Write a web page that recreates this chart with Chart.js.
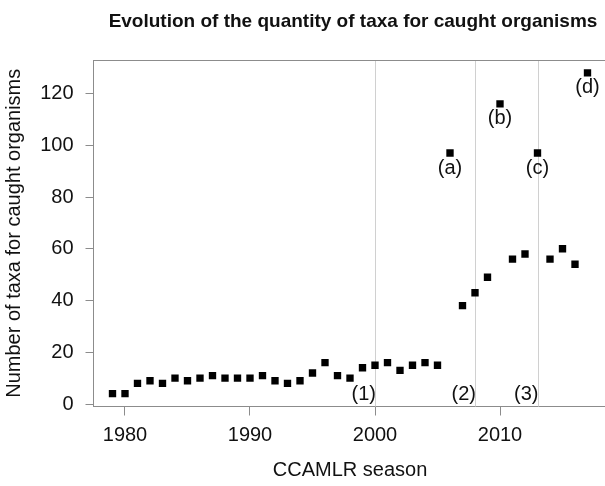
<!DOCTYPE html>
<html>
<head>
<meta charset="utf-8">
<script src="https://cdn.jsdelivr.net/npm/chart.js@4/dist/chart.umd.min.js"></script>
<style>
  html, body { margin: 0; padding: 0; background: #fff; overflow: hidden; }
</style>
</head>
<body>
<canvas id="chart" width="620" height="486"></canvas>
<script>
// CCAMLR seasons and number of taxa recorded for caught organisms
const seasons = [1979, 1980, 1981, 1982, 1983, 1984, 1985, 1986, 1987, 1988,
                 1989, 1990, 1991, 1992, 1993, 1994, 1995, 1996, 1997, 1998,
                 1999, 2000, 2001, 2002, 2003, 2004, 2005, 2006, 2007, 2008,
                 2009, 2010, 2011, 2012, 2013, 2014, 2015, 2016, 2017];
const taxa = [4, 4, 8, 9, 8, 10, 9, 10, 11, 10,
              10, 10, 11, 9, 8, 9, 12, 16, 11, 10,
              14, 15, 16, 13, 15, 16, 15, 97, 38, 43,
              49, 116, 56, 58, 97, 56, 60, 54, 128];

const xTicks = [1980, 1990, 2000, 2010];
const yTicks = [0, 20, 40, 60, 80, 100, 120];

// vertical reference lines (1)-(3) and the labelled outliers (a)-(d)
const refYears = [2000, 2008, 2013];
const refLabels = ['(1)', '(2)', '(3)'];
const peakYears = [2006, 2010, 2013, 2017];
const peakLabels = ['(a)', '(b)', '(c)', '(d)'];

const FONT = '"Liberation Sans", Arial, sans-serif';
const AXIS_COLOR = '#8c8c8c';

const annotations = {
    id: 'annotations',
    beforeDatasetsDraw(chart) {
        const { ctx, chartArea, scales } = chart;
        ctx.save();
        ctx.strokeStyle = '#d0d0d0';
        ctx.lineWidth = 1;
        refYears.forEach(yr => {
            const px = Math.round(scales.x.getPixelForValue(yr)) + 0.5;
            ctx.beginPath();
            ctx.moveTo(px, chartArea.top);
            ctx.lineTo(px, chartArea.bottom);
            ctx.stroke();
        });
        // top of the box
        ctx.strokeStyle = AXIS_COLOR;
        ctx.beginPath();
        ctx.moveTo(chartArea.left, Math.round(chartArea.top) + 0.5);
        ctx.lineTo(chartArea.right, Math.round(chartArea.top) + 0.5);
        ctx.stroke();
        ctx.restore();
    },
    afterDraw(chart) {
        const { ctx, chartArea, scales } = chart;
        ctx.save();
        ctx.fillStyle = '#111';

        // main title
        ctx.font = 'bold 19px ' + FONT;
        ctx.textAlign = 'center';
        ctx.textBaseline = 'alphabetic';
        ctx.fillText('Evolution of the quantity of taxa for caught organisms',
            (chartArea.left + chartArea.right) / 2 + 3, 27);

        // axis titles
        ctx.font = '20px ' + FONT;
        ctx.fillText('CCAMLR season', (chartArea.left + chartArea.right) / 2, 476);
        ctx.save();
        ctx.translate(20, (chartArea.top + chartArea.bottom) / 2);
        ctx.rotate(-Math.PI / 2);
        ctx.fillText('Number of taxa for caught organisms', 0, 0);
        ctx.restore();

        // outlier labels under points
        ctx.textBaseline = 'middle';
        peakYears.forEach((yr, i) => {
            const v = taxa[seasons.indexOf(yr)];
            const px = scales.x.getPixelForValue(yr);
            const py = scales.y.getPixelForValue(v);
            ctx.fillText(peakLabels[i], px, py + 15);
        });

        // reference line labels
        ctx.textAlign = 'right';
        refYears.forEach((yr, i) => {
            const px = scales.x.getPixelForValue(yr);
            ctx.fillText(refLabels[i], px + 1, scales.y.getPixelForValue(3.5));
        });
        ctx.restore();
    }
};

new Chart(document.getElementById('chart'), {
    type: 'scatter',
    data: {
        datasets: [{
            data: seasons.map((s, i) => ({ x: s, y: taxa[i] })),
            pointStyle: 'rect',
            pointRadius: 5.2,
            pointHoverRadius: 5.2,
            backgroundColor: '#000',
            borderWidth: 0
        }]
    },
    options: {
        responsive: false,
        devicePixelRatio: 1,
        animation: false,
        events: [],
        layout: { padding: { top: 60, right: 13.5, left: 0, bottom: 0 } },
        plugins: {
            legend: { display: false },
            tooltip: { enabled: false }
        },
        scales: {
            x: {
                type: 'linear',
                min: 1977.48,
                max: 2018.52,
                afterFit: s => { s.height = 79.5; },
                afterBuildTicks: s => { s.ticks = xTicks.map(v => ({ value: v })); },
                grid: { drawOnChartArea: false, drawTicks: true, tickLength: 9, color: AXIS_COLOR },
                border: { display: true, color: AXIS_COLOR },
                ticks: {
                    padding: 8,
                    maxRotation: 0,
                    color: '#111',
                    font: { family: FONT, size: 20 },
                    callback: v => String(v)
                }
            },
            y: {
                type: 'linear',
                min: -0.96,
                max: 132.96,
                afterFit: s => { s.width = 93.5; },
                afterBuildTicks: s => { s.ticks = yTicks.map(v => ({ value: v })); },
                grid: { drawOnChartArea: false, drawTicks: true, tickLength: 8, color: AXIS_COLOR },
                border: { display: true, color: AXIS_COLOR },
                ticks: {
                    padding: 12,
                    color: '#111',
                    font: { family: FONT, size: 20 },
                    callback: v => String(v)
                }
            }
        }
    },
    plugins: [annotations]
});
</script>
</body>
</html>
